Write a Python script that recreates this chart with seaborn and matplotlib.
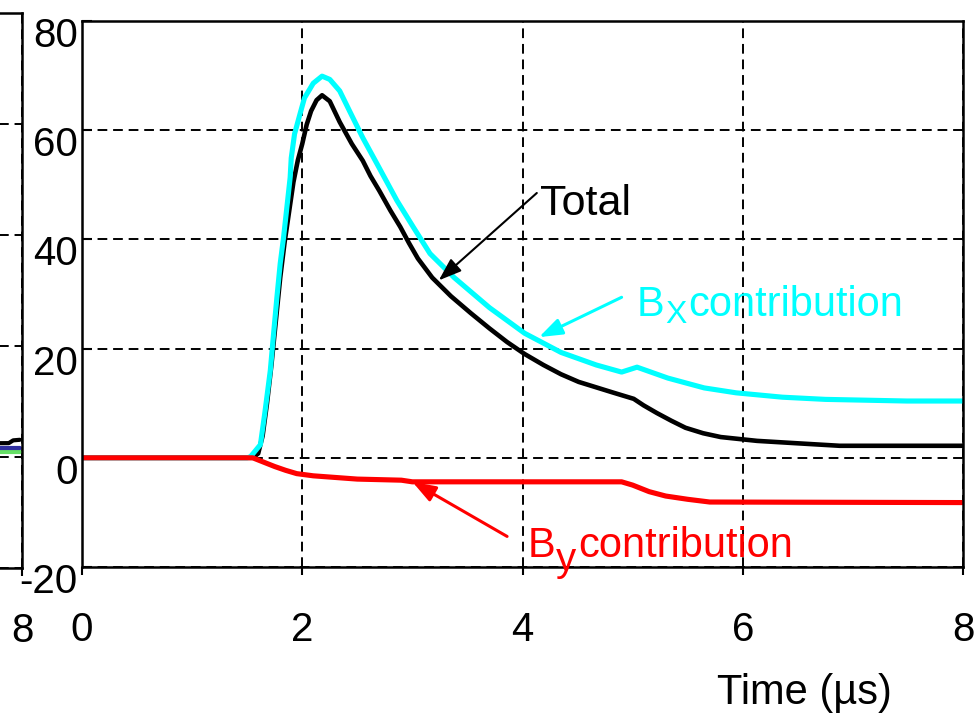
import numpy as np
import pandas as pd
import matplotlib
matplotlib.use("Agg")
import matplotlib.pyplot as plt
from matplotlib.transforms import ScaledTranslation
import seaborn as sns

# ---------------- data ----------------
t_bx = [0.00, 1.50, 1.53, 1.62, 1.66, 1.71, 1.74, 1.77, 1.80, 1.83, 1.86, 1.89,
        1.90, 1.93, 1.98, 2.02, 2.10, 2.18, 2.25, 2.34, 2.43, 2.55, 2.68, 2.86,
        3.01, 3.16, 3.38, 3.70, 4.02, 4.35, 4.67, 4.90, 5.04, 5.32, 5.65, 5.94,
        6.36, 6.75, 7.49, 8.00]
v_bx = [0.0, 0.0, 0.2, 2.4, 8.2, 16.0, 22.8, 29.4, 35.6, 40.3, 45.8, 51.3,
        54.9, 59.3, 63.0, 65.9, 68.6, 69.9, 69.3, 67.2, 63.5, 58.6, 53.8, 47.1,
        42.2, 37.4, 33.0, 27.5, 22.8, 19.3, 17.0, 15.7, 16.6, 14.6, 12.8, 11.9,
        11.1, 10.7, 10.4, 10.4]

t_total = [0.00, 1.55, 1.60, 1.64, 1.68, 1.72, 1.76, 1.80, 1.84, 1.88, 1.92, 1.96,
           2.00, 2.04, 2.08, 2.13, 2.18, 2.25, 2.34, 2.45, 2.55, 2.62, 2.70, 2.80,
           2.89, 2.97, 3.05, 3.18, 3.35, 3.53, 3.70, 3.86, 4.02, 4.19, 4.35, 4.51,
           4.67, 4.83, 5.01, 5.10, 5.22, 5.35, 5.48, 5.64, 5.80, 6.13, 6.46, 6.88,
           8.00]
v_total = [0.0, 0.0, 0.8, 4.0, 10.0, 17.0, 25.0, 33.0, 39.5, 45.0, 50.5, 54.5,
           57.5, 61.0, 63.5, 65.5, 66.4, 65.3, 61.5, 57.5, 54.4, 51.6, 48.9, 45.3,
           42.3, 39.3, 36.5, 33.0, 29.6, 26.5, 23.7, 21.2, 19.0, 17.0, 15.3, 13.9,
           12.9, 11.9, 10.8, 9.6, 8.2, 6.8, 5.5, 4.5, 3.8, 3.1, 2.7, 2.2,
           2.2]

t_by = [0.00, 1.55, 1.65, 1.75, 1.85, 1.95, 2.10, 2.30, 2.50, 2.90, 3.00, 4.90,
        5.00, 5.15, 5.30, 5.50, 5.70, 8.00]
v_by = [0.0, 0.0, -0.8, -1.6, -2.3, -2.9, -3.3, -3.6, -3.9, -4.1, -4.4, -4.4,
        -5.0, -6.2, -7.0, -7.6, -8.1, -8.2]

# partially visible neighbouring panel (only its right end is in the picture)
t_left = [7.00, 7.88, 7.92, 7.98]
v_left_black = [2.4, 2.5, 3.0, 3.1]
v_left_blue = [1.6, 1.6, 1.6, 1.6]
v_left_green = [0.9, 0.9, 0.9, 0.9]

x_ticks = [0, 2, 4, 6, 8]
y_ticks = [-20, 0, 20, 40, 60, 80]

main_df = pd.concat([
    pd.DataFrame({"time": t_total, "value": v_total, "series": "Total"}),
    pd.DataFrame({"time": t_bx, "value": v_bx, "series": "Bx"}),
    pd.DataFrame({"time": t_by, "value": v_by, "series": "By"}),
], ignore_index=True)

left_df = pd.concat([
    pd.DataFrame({"time": t_left, "value": v_left_green, "series": "green"}),
    pd.DataFrame({"time": t_left, "value": v_left_blue, "series": "blue"}),
    pd.DataFrame({"time": t_left, "value": v_left_black, "series": "black"}),
], ignore_index=True)

# ---------------- style ----------------
sns.set_theme(style="white")
plt.rcParams["font.family"] = ["Liberation Sans", "DejaVu Sans"]
plt.rcParams["axes.unicode_minus"] = False
plt.rcParams["text.color"] = "black"
plt.rcParams["axes.labelcolor"] = "black"
plt.rcParams["axes.edgecolor"] = "black"
plt.rcParams["axes.linewidth"] = 1.8
plt.rcParams["xtick.color"] = "black"
plt.rcParams["ytick.color"] = "black"
plt.rcParams["xtick.labelcolor"] = "black"
plt.rcParams["ytick.labelcolor"] = "black"
plt.rcParams["lines.solid_joinstyle"] = "round"

W, H = 976, 715
fig = plt.figure(figsize=(W / 100, H / 100), dpi=100)
ax0 = fig.add_axes([22 / W - 881 / W, (H - 568) / H, 881 / W, 555 / H])
ax = fig.add_axes([82 / W, (H - 567) / H, 881 / W, 546 / H])

main_pal = {"Total": "black", "Bx": "#00FFFF", "By": "#FF0000"}
left_pal = {"green": "#66E066", "blue": "#3030A0", "black": "black"}

sns.lineplot(data=left_df, x="time", y="value", hue="series", palette=left_pal,
             estimator=None, sort=False, legend=False, linewidth=3.0, ax=ax0)
for name, lw in (("Total", 3.3), ("Bx", 3.7), ("By", 3.7)):
    sns.lineplot(data=main_df[main_df.series == name], x="time", y="value",
                 hue="series", palette=main_pal, estimator=None, sort=False,
                 legend=False, linewidth=lw, ax=ax)

for a in (ax0, ax):
    a.set_xlim(0, 8)
    a.set_ylim(-20, 80)
    a.set_xticks(x_ticks)
    a.set_yticks(y_ticks)
    a.set_xlabel("")
    a.set_ylabel("")
    a.grid(True, color="black", linestyle=(0, (5, 3)), linewidth=1.4)
    a.set_axisbelow(True)
    for s in a.spines.values():
        s.set_visible(True)
        s.set_color("black")
        s.set_linewidth(1.8)
    a.tick_params(axis="y", direction="in", length=7, width=1.5, pad=3,
                  labelsize=29, left=True, right=False)
    a.tick_params(axis="x", direction="out", length=6, width=1.5, pad=26,
                  labelsize=29, bottom=True, top=False)

# neighbouring panel: only its last x label is inside the picture
ax0.tick_params(axis="y", labelleft=False)
ax0.set_xticklabels(["", "", "", "", "8"])

off = ScaledTranslation(0, -11 / 100, fig.dpi_scale_trans)
for lab in ax.get_yticklabels():
    lab.set_transform(lab.get_transform() + off)

ax.set_xlabel("Time (µs)", fontsize=30, va="top", color="black")
ax.xaxis.set_label_coords(0.82, -0.194)

# ---------------- annotations ----------------
arrow_kw = dict(shrinkA=0, shrinkB=0, mutation_scale=20)
head = "-|>,head_length=0.7,head_width=0.25"


def label(x, y, main, sub, sub_size, sub_dx, sub_dy, rest_dx, color):
    ax.annotate(main, xy=(x, y), xytext=(0, 0), textcoords="offset pixels",
                fontsize=30, color=color, ha="left", va="baseline")
    ax.annotate(sub, xy=(x, y), xytext=(sub_dx, sub_dy), textcoords="offset pixels",
                fontsize=sub_size, color=color, ha="left", va="baseline")
    ax.annotate("contribution", xy=(x, y), xytext=(rest_dx, 0),
                textcoords="offset pixels", fontsize=30, color=color,
                ha="left", va="baseline")


ax.text(4.16, 44.5, "Total", fontsize=31, color="black", ha="left", va="baseline")
ax.annotate("", xy=(3.24, 32.5), xytext=(4.13, 48.5),
            arrowprops=dict(arrowstyle=head, color="black", lw=1.5, **arrow_kw))

label(5.04, 25.9, "B", "X", 23, 28, -7, 51, "#00FFFF")
ax.annotate("", xy=(4.15, 22.1), xytext=(4.90, 29.4),
            arrowprops=dict(arrowstyle=head, color="#00FFFF", lw=2.2, **arrow_kw))

label(4.05, -18.1, "B", "y", 29, 28, -14, 50, "#FF0000")
ax.annotate("", xy=(3.00, -4.4), xytext=(3.86, -14.4),
            arrowprops=dict(arrowstyle=head, color="#FF0000", lw=2.2, **arrow_kw))

fig.savefig("out.png", dpi=100)
